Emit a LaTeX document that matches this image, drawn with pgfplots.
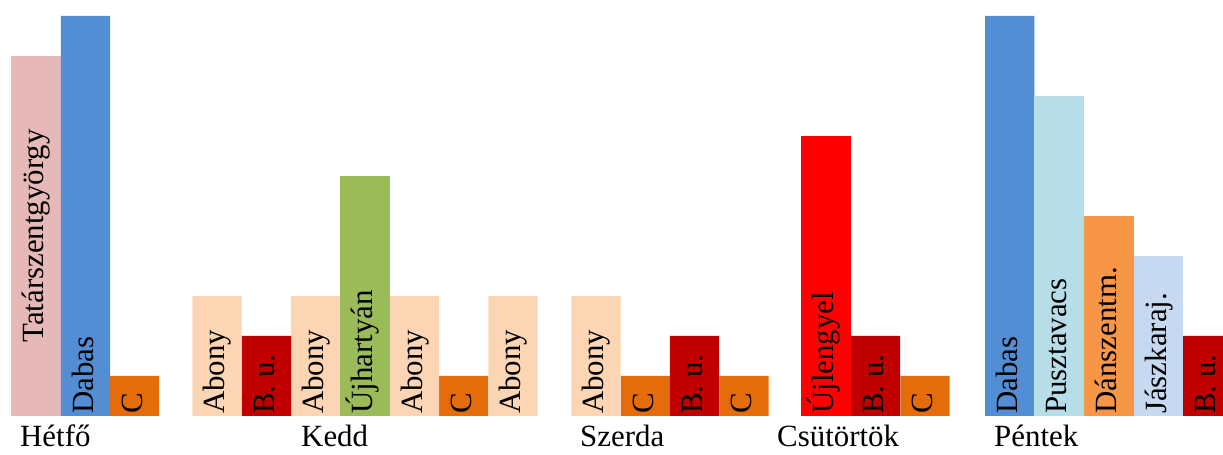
\documentclass[border=0pt]{standalone}
\usepackage{pgfplots}
\pgfplotsset{compat=1.18}
\usepackage{fontspec}
\setmainfont{Liberation Serif}
\definecolor{cTat}{HTML}{E6B9B8}
\definecolor{cDab}{HTML}{538ED5}
\definecolor{cC}{HTML}{E46C0A}
\definecolor{cAb}{HTML}{FCD5B5}
\definecolor{cBu}{HTML}{C00000}
\definecolor{cUjh}{HTML}{9BBB59}
\definecolor{cUjl}{HTML}{FF0000}
\definecolor{cPv}{HTML}{B7DEE8}
\definecolor{cDsz}{HTML}{F79646}
\definecolor{cJk}{HTML}{C6D9F1}
\begin{document}
\begin{tikzpicture}
\begin{axis}[at={(0,39bp)}, anchor=south west,
  scale only axis, width=1223bp, height=440bp,
  xmin=0, xmax=1223, ymin=0, ymax=11,
  hide axis, clip=false]
\addplot[ybar, bar width=49.4, fill=cTat, draw=none] coordinates {(36,9)};
\addplot[ybar, bar width=49.4, fill=cDab, draw=none] coordinates {(85.5,10) (1009.7,10)};
\addplot[ybar, bar width=49.4, fill=cC, draw=none] coordinates {(134.5,1) (463.5,1) (645.5,1) (744,1) (925,1)};
\addplot[ybar, bar width=49.4, fill=cAb, draw=none] coordinates {(217,3) (315.5,3) (414.5,3) (513,3) (596,3)};
\addplot[ybar, bar width=49.4, fill=cBu, draw=none] coordinates {(266.5,2) (694.5,2) (875.5,2) (1207.7,2)};
\addplot[ybar, bar width=49.4, fill=cUjh, draw=none] coordinates {(365,6)};
\addplot[ybar, bar width=49.4, fill=cUjl, draw=none] coordinates {(826,7)};
\addplot[ybar, bar width=49.4, fill=cPv, draw=none] coordinates {(1059,8)};
\addplot[ybar, bar width=49.4, fill=cDsz, draw=none] coordinates {(1109,5)};
\addplot[ybar, bar width=49.4, fill=cJk, draw=none] coordinates {(1158.4,4)};
% centred label (Tatárszentgyörgy)
\addplot[draw=none, nodes near coords, point meta=explicit symbolic,
  nodes near coords style={rotate=90, anchor=center, inner sep=0pt,
    text height=21.7bp, text depth=6.2bp, font=\fontsize{31}{37}\selectfont, text=black}]
  coordinates {(36,4.5) [Tatárszentgyörgy]};
% labels at bar base
\addplot[draw=none, nodes near coords, point meta=explicit symbolic,
  nodes near coords style={rotate=90, anchor=west, inner xsep=2bp, inner ysep=0pt,
    text height=21.7bp, text depth=6.2bp, font=\fontsize{31}{37}\selectfont, text=black}]
  coordinates {
  (85.5,0) [Dabas] (134.5,0) [C]
  (217,0) [Abony] (266.5,0) [B. u.] (315.5,0) [Abony] (365,0) [Újhartyán]
  (414.5,0) [Abony] (463.5,0) [C] (513,0) [Abony]
  (596,0) [Abony] (645.5,0) [C] (694.5,0) [B. u.] (744,0) [C]
  (826,0) [Újlengyel] (875.5,0) [B. u.] (925,0) [C]
  (1009.7,0) [Dabas] (1059,0) [Pusztavacs] (1109,0) [Dánszentm.] (1158.4,0) [Jászkaraj.] (1207.7,0) [B. u.]
  };
% day labels
\addplot[draw=none, nodes near coords, point meta=explicit symbolic,
  nodes near coords style={anchor=base west, inner sep=0pt, yshift=-31bp,
    font=\fontsize{31}{37}\selectfont, text=black}]
  coordinates {
  (20,0) [Hétfő] (301,0) [Kedd] (580,0) [Szerda] (777,0) [Csütörtök] (994,0) [Péntek]
  };
\end{axis}
\pgfresetboundingbox
\useasboundingbox (0,0) rectangle (1223bp,455bp);
\end{tikzpicture}
\end{document}
